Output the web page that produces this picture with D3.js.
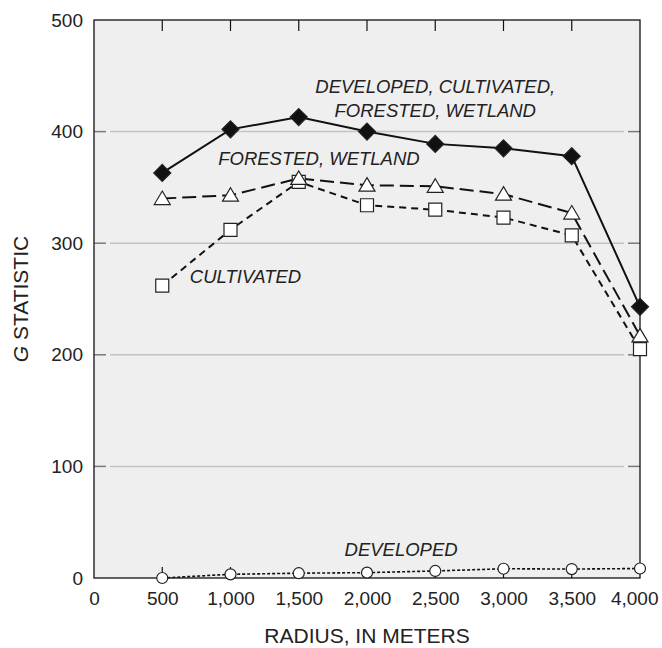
<!DOCTYPE html>
<html lang="en">
<head>
	<meta charset="utf-8">
	<title>G statistic by radius</title>
	<script src="https://cdn.jsdelivr.net/npm/d3@7"></script>
	<style>
		body { margin: 0; background: #fff; }
		svg text { font-family: "Liberation Sans", Arial, Helvetica, sans-serif; fill: #222; }
	</style>
</head>
<body>
	<script>
		// data
		var radius = [500, 1000, 1500, 2000, 2500, 3000, 3500, 4000];
		var allClasses = [363, 402, 413, 400, 389, 385, 378, 243];   // developed, cultivated, forested, wetland
		var forestedWetland = [340, 343, 358, 352, 351, 344, 327, 217];
		var cultivated = [262, 312, 355, 334, 330, 323, 307, 205];
		var developed = [0, 3.3, 4.3, 4.8, 6.3, 8.3, 8, 8.5];

		var xTicks = [0, 500, 1000, 1500, 2000, 2500, 3000, 3500, 4000];
		var yTicks = [0, 100, 200, 300, 400, 500];

		var labels = [
			{ text: "DEVELOPED, CULTIVATED,", x: 2500, y: 435 },
			{ text: "FORESTED, WETLAND", x: 2500, y: 413 },
			{ text: "FORESTED, WETLAND", x: 1648, y: 370 },
			{ text: "CULTIVATED", x: 1110, y: 264 },
			{ text: "DEVELOPED", x: 2250, y: 20 }
		];

		var w = 662, h = 648;
		var mLeft = 94, mRight = 640, mTop = 20, mBottom = 578;

		var x = d3.scaleLinear().domain([0, 4000]).range([mLeft, mRight]);
		var y = d3.scaleLinear().domain([0, 500]).range([mBottom, mTop]);

		var svg = d3.select("body").append("svg")
			.attr("width", w)
			.attr("height", h);

		// plot background
		svg.append("rect")
			.attr("x", mLeft).attr("y", mTop)
			.attr("width", mRight - mLeft).attr("height", mBottom - mTop)
			.attr("fill", "#efefef");

		// gridlines + inward y ticks
		var inner = yTicks.filter(d => d > 0 && d < 500);
		svg.selectAll(".grid").data(inner).enter().append("line")
			.attr("x1", mLeft + 16).attr("x2", mRight - 16)
			.attr("y1", d => y(d)).attr("y2", d => y(d))
			.attr("stroke", "#c4c4c4").attr("stroke-width", 1.5);
		svg.selectAll(".ytl").data(inner).enter().append("line")
			.attr("x1", mLeft).attr("x2", mLeft + 12)
			.attr("y1", d => y(d)).attr("y2", d => y(d))
			.attr("stroke", "#7a7a7a").attr("stroke-width", 1.5);
		svg.selectAll(".ytr").data(inner).enter().append("line")
			.attr("x1", mRight - 12).attr("x2", mRight)
			.attr("y1", d => y(d)).attr("y2", d => y(d))
			.attr("stroke", "#7a7a7a").attr("stroke-width", 1.5);

		// inward x ticks top and bottom
		var xin = xTicks.filter(d => d > 0 && d < 4000);
		svg.selectAll(".xtb").data(xin).enter().append("line")
			.attr("x1", d => x(d)).attr("x2", d => x(d))
			.attr("y1", mBottom).attr("y2", mBottom - 11)
			.attr("stroke", "#111").attr("stroke-width", 1.2);
		svg.selectAll(".xtt").data(xin).enter().append("line")
			.attr("x1", d => x(d)).attr("x2", d => x(d))
			.attr("y1", mTop).attr("y2", mTop + 11)
			.attr("stroke", "#111").attr("stroke-width", 1.2);

		// series
		var series = [
			{ vals: developed, dash: "3,2", width: 1.6, marker: "circle" },
			{ vals: cultivated, dash: "7,5", width: 2, marker: "square" },
			{ vals: forestedWetland, dash: "14,6", width: 2, marker: "triangle" },
			{ vals: allClasses, dash: null, width: 2, marker: "diamond" }
		];

		var line = d3.line()
			.x((d, i) => x(radius[i]))
			.y(d => y(d));

		series.forEach(function (s) {
			svg.append("path")
				.attr("d", line(s.vals))
				.attr("fill", "none")
				.attr("stroke", "#111")
				.attr("stroke-width", s.width)
				.attr("stroke-dasharray", s.dash);
		});

		// frame
		svg.append("rect")
			.attr("x", mLeft).attr("y", mTop)
			.attr("width", mRight - mLeft).attr("height", mBottom - mTop)
			.attr("fill", "none")
			.attr("stroke", "#111").attr("stroke-width", 1.3);

		var shapes = {
			circle: "M-5.5,0A5.5,5.5 0 1,0 5.5,0A5.5,5.5 0 1,0 -5.5,0Z",
			square: "M-6.5,-6.5H6.5V6.5H-6.5Z",
			triangle: "M0,-7.5L8,6L-8,6Z",
			diamond: "M0,-8.5L8.5,0L0,8.5L-8.5,0Z"
		};

		series.forEach(function (s) {
			svg.selectAll(null).data(s.vals).enter().append("path")
				.attr("transform", (d, i) => `translate(${x(radius[i])},${y(d)})`)
				.attr("d", shapes[s.marker])
				.attr("fill", s.marker === "diamond" ? "#111" : "#fff")
				.attr("stroke", "#222")
				.attr("stroke-width", 1.2);
		});

		// axis labels
		var xAxis = svg.append("g")
			.attr("transform", `translate(0,${mBottom})`)
			.call(d3.axisBottom(x).tickValues(xTicks).tickSize(0).tickPadding(14)
				.tickFormat(d3.format(",")));
		xAxis.select(".domain").remove();
		xAxis.selectAll("text").style("font-size", "19px");
		// last label pulled in so it stays on the page
		xAxis.selectAll("text").filter(d => d === 4000)
			.attr("text-anchor", "end").attr("x", 18);

		var yAxis = svg.append("g")
			.attr("transform", `translate(${mLeft},0)`)
			.call(d3.axisLeft(y).tickValues(yTicks).tickSize(0).tickPadding(11));
		yAxis.select(".domain").remove();
		yAxis.selectAll("text").style("font-size", "19px");

		svg.append("text")
			.attr("x", (mLeft + mRight) / 2)
			.attr("y", 643)
			.attr("text-anchor", "middle")
			.style("font-size", "21px")
			.text("RADIUS, IN METERS");

		var yt = svg.append("text")
			.attr("transform", `translate(28,${(mTop + mBottom) / 2}) rotate(-90)`)
			.attr("text-anchor", "middle")
			.style("font-size", "21px");
		yt.append("tspan").style("font-style", "italic").text("G");
		yt.append("tspan").text(" STATISTIC");

		// annotations
		svg.selectAll(".lab").data(labels).enter().append("text")
			.attr("x", d => x(d.x))
			.attr("y", d => y(d.y))
			.attr("text-anchor", "middle")
			.style("font-size", "18.5px")
			.style("font-style", "italic")
			.text(d => d.text);
	</script>
</body>
</html>
